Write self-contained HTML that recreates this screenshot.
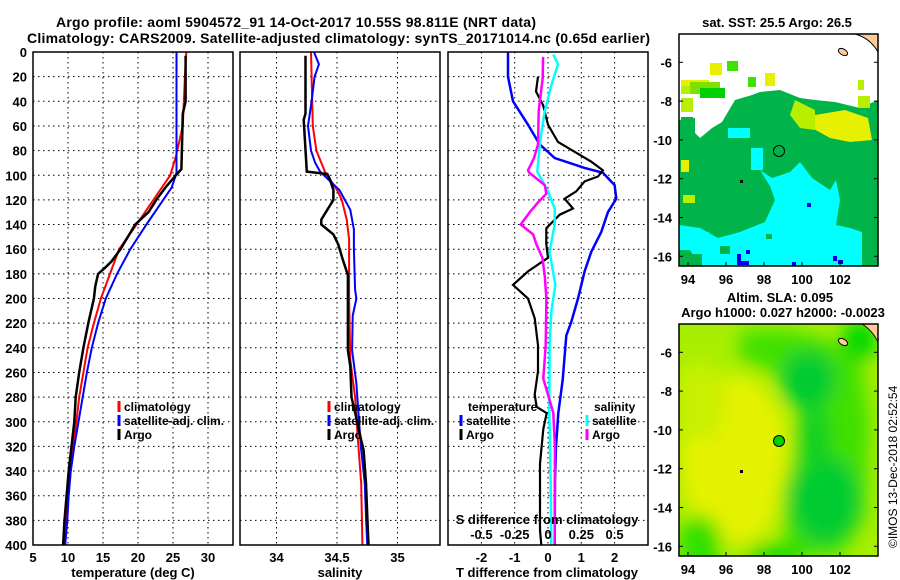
<!DOCTYPE html>
<html><head><meta charset="utf-8"><style>
body{margin:0;background:#fff;}
svg{display:block;font-family:"Liberation Sans",sans-serif;font-weight:bold;}
</style></head><body>
<svg id="chart" width="900" height="580" viewBox="0 0 900 580">
<defs>
<filter id="blur" x="-20%" y="-20%" width="140%" height="140%"><feGaussianBlur stdDeviation="9"/></filter>
<clipPath id="clipTop"><rect x="679" y="34" width="199" height="232"/></clipPath>
<clipPath id="clipBot"><rect x="679" y="324" width="199" height="232"/></clipPath>
</defs>
<text x="56" y="27" font-size="14" textLength="480">Argo profile: aoml 5904572_91 14-Oct-2017 10.55S 98.811E (NRT data)</text>
<text x="27" y="43" font-size="14" textLength="623">Climatology: CARS2009. Satellite-adjusted climatology: synTS_20171014.nc (0.65d earlier)</text>

<g id="panels"></g>

<!-- top map -->
<g>
<text x="777" y="27" font-size="13" text-anchor="middle">sat. SST: 25.5 Argo: 26.5</text>
<g clip-path="url(#clipTop)">
<rect x="679" y="34" width="199" height="232" fill="#fff"/>
<polygon fill="#00b44a" points="679,135 690,128 700,138 712,128 722,122 735,100 752,95 760,92 780,90 800,98 815,100 835,102 860,108 878,100 878,266 679,266"/>
<polygon fill="#00b44a" points="679,160 679,120 695,118 695,160"/>
<rect x="681" y="80" width="28" height="8" fill="#e6f000"/><rect x="681" y="86" width="12" height="8" fill="#b8ee00"/>
<rect x="681" y="98" width="12" height="14" fill="#b8ee00"/><rect x="710" y="63" width="12" height="12" fill="#e6f000"/><rect x="727" y="61" width="11" height="10" fill="#40e000"/>
<rect x="690" y="82" width="30" height="12" fill="#7fe000"/><rect x="700" y="88" width="25" height="10" fill="#00d000"/>
<rect x="765" y="73" width="10" height="13" fill="#e6f000"/><rect x="748" y="77" width="8" height="10" fill="#40e000"/>
<rect x="681" y="117" width="12" height="11" fill="#00b44a"/>
<polygon fill="#e6f000" points="815,115 845,110 868,118 872,140 850,142 830,138 812,128"/>
<polygon fill="#b8ee00" points="795,100 815,110 815,130 800,128 790,115"/>
<rect x="858" y="96" width="12" height="12" fill="#b8ee00"/><rect x="858" y="80" width="6" height="10" fill="#b8ee00"/>
<rect x="681" y="160" width="8" height="12" fill="#e6f000"/><rect x="683" y="195" width="12" height="8" fill="#b8ee00"/>
<polygon fill="#00ffff" points="760,170 772,178 790,172 800,162 812,178 830,190 836,180 840,200 836,225 850,228 862,232 862,266 700,266 690,250 679,248 679,225 700,228 718,238 740,232 765,222 775,200 770,186"/>
<rect x="728" y="128" width="22" height="10" fill="#00ffff"/><rect x="751" y="148" width="12" height="22" fill="#00ffff"/>
<rect x="679" y="232" width="30" height="18" fill="#00ffff"/><rect x="700" y="220" width="14" height="8" fill="#00b44a"/>
<rect x="680" y="254" width="22" height="12" fill="#00b44a"/><rect x="720" y="246" width="10" height="8" fill="#00b44a"/>
<rect x="766" y="234" width="6" height="5" fill="#00b44a"/><rect x="730" y="225" width="8" height="6" fill="#00b44a"/>
<rect x="737" y="254" width="4" height="9" fill="#0000ee"/><rect x="737" y="261" width="12" height="4" fill="#0000ee"/>
<rect x="746" y="250" width="4" height="4" fill="#0000ee"/><rect x="807" y="203" width="4" height="4" fill="#0000ee"/>
<rect x="792" y="262" width="4" height="4" fill="#0000ee"/><rect x="833" y="256" width="4" height="5" fill="#0000ee"/><rect x="838" y="260" width="5" height="4" fill="#0000ee"/>
<path d="M855,34 Q870,38 878,52 L878,34 Z" fill="#ffcc99" stroke="#000" stroke-width="1"/>
<ellipse cx="843" cy="52" rx="5" ry="3" transform="rotate(30 843 52)" fill="#ffcc99" stroke="#000"/>
<rect x="740" y="180" width="3" height="3" fill="#000"/>
<circle cx="779" cy="151" r="5.5" fill="#00b44a" stroke="#000"/>
</g>
<rect x="679" y="34" width="199" height="232" fill="none" stroke="#000" stroke-width="1.5"/>
</g>

<!-- bottom map -->
<g>
<text x="780" y="302" font-size="13" text-anchor="middle">Altim. SLA: 0.095</text>
<text x="783" y="317" font-size="13" text-anchor="middle">Argo h1000: 0.027 h2000: -0.0023</text>
<g clip-path="url(#clipBot)">
<rect x="679" y="324" width="199" height="232" fill="#a8ee00"/>
<g filter="url(#blur)">
<ellipse cx="735" cy="460" rx="55" ry="85" fill="#e4f200"/>
<ellipse cx="700" cy="400" rx="25" ry="40" fill="#c8f000"/>
<polygon fill="#40e000" points="740,330 790,330 830,340 860,360 870,420 865,520 840,556 790,556 780,500 790,460 800,400 770,370 740,360"/>
<ellipse cx="808" cy="380" rx="28" ry="30" fill="#00cc33"/>
<ellipse cx="825" cy="500" rx="35" ry="45" fill="#00cc33"/>
<ellipse cx="815" cy="440" rx="15" ry="35" fill="#10d020"/>
<ellipse cx="700" cy="545" rx="22" ry="30" fill="#30e000"/>
<ellipse cx="775" cy="555" rx="30" ry="10" fill="#00d800"/>
<ellipse cx="860" cy="340" rx="18" ry="20" fill="#00d800"/>
</g>
<path d="M862,324 Q872,330 878,342 L878,324 Z" fill="#ffcc99" stroke="#000" stroke-width="1"/>
<ellipse cx="843" cy="342" rx="5" ry="3" transform="rotate(30 843 342)" fill="#ffcc99" stroke="#000"/>
<rect x="740" y="470" width="3" height="3" fill="#000"/>
<circle cx="779" cy="441" r="5.5" fill="#00d000" stroke="#000"/>
</g>
<rect x="679" y="324" width="199" height="232" fill="none" stroke="#000" stroke-width="1.5"/>
<text transform="translate(897,548) rotate(-90)" font-size="12" font-weight="normal">©IMOS 13-Dec-2018 02:52:54</text>
</g>
<g id="mapaxes"></g>
</svg>
<script>
// ---------- data ----------
const depthTicks = [0,20,40,60,80,100,120,140,160,180,200,220,240,260,280,300,320,340,360,380,400];
const tempTicks = [5,10,15,20,25,30];
const salTicks = [34,34.5,35];
const salTickLabels = ["34","34.5","35"];
const diffTicks = [-2,-1,0,1,2];
const sdiffTicks = [-0.5,-0.25,0,0.25,0.5];
const sdiffTickLabels = ["-0.5","-0.25","0","0.25","0.5"];

const climTDepth = [0,20,60,85,100,120,140,160,180,200,220,240,260,280,300,320,340,360,380,400];
const climTValue = [26.9,26.7,26.4,25.4,24.6,22.2,19.8,17.3,16.0,14.7,13.7,12.8,12.2,11.6,11.2,10.7,10.2,9.9,9.7,9.5];
const satTDepth = [0,98,100,110,120,140,160,180,200,220,240,260,280,300,320,340,360,380,400];
const satTValue = [25.5,25.5,25.4,24.8,23.6,21.2,18.9,17.0,15.4,14.3,13.4,12.7,12.1,11.5,10.9,10.4,10.1,9.9,9.6];
const argoTDepth = [3,40,50,95,100,110,120,130,140,160,170,175,180,190,200,220,240,260,280,300,320,340,360,380,400];
const argoTValue = [26.8,26.8,26.4,26.2,25.4,23.9,22.6,21.5,19.6,17.5,16.2,15.3,14.3,13.9,13.7,12.9,12.2,11.6,11.1,10.9,10.5,10.1,9.8,9.5,9.3];

const climSDepth = [0,60,80,97,112,120,136,152,200,250,280,311,350,400];
const climSValue = [34.285,34.30,34.33,34.40,34.50,34.54,34.58,34.60,34.60,34.61,34.65,34.67,34.70,34.71];
const satSDepth = [0,10,20,40,60,80,90,97,112,128,144,160,193,200,214,242,269,297,323,350,377,400];
const satSValue = [34.31,34.35,34.315,34.29,34.26,34.285,34.32,34.36,34.52,34.61,34.64,34.64,34.65,34.66,34.63,34.625,34.66,34.68,34.70,34.73,34.74,34.75];
const argoSDepth = [3,50,55,97,99,103,112,120,136,140,148,156,169,181,201,242,255,280,297,311,323,350,377,400];
const argoSValue = [34.24,34.24,34.225,34.25,34.42,34.44,34.47,34.47,34.37,34.37,34.47,34.51,34.55,34.59,34.59,34.59,34.61,34.62,34.66,34.69,34.72,34.74,34.75,34.76];

const satDTDepth = [0,20,40,59,75,86,94,98,108,119,130,146,162,178,200,219,230,266,293,320,347,400];
const satDTValue = [-1.2,-1.2,-1.05,-0.6,-0.25,0.2,1.1,1.65,2.0,2.05,1.8,1.6,1.3,1.1,0.9,0.7,0.55,0.44,0.31,0.24,0.21,0.2];
const argoDTDepth = [20,32,43,59,73,81,89,96,101,105,113,119,127,132,143,156,167,178,189,200,216,238,259,278,288,293,306,334,361,388,400];
const argoDTValue = [-0.3,-0.36,-0.15,0,0.3,0.8,1.3,1.65,1.5,1.1,0.85,0.5,0.75,0.35,-0.05,-0.05,0,-0.6,-1.05,-0.6,-0.4,-0.3,-0.3,-0.4,-0.34,-0.04,-0.14,-0.24,-0.24,-0.24,-0.2];
const satDSDepth = [2,10,27,48,73,97,113,127,140,162,189,211,238,293,350,400];
const satDSValue = [0.04,0.075,0.025,-0.025,-0.06,-0.08,0,0.05,0.05,0.012,0.055,0.025,0.012,0.01,0.02,0.025];
const argoDSDepth = [4,21,48,75,86,96,98,108,115,122,130,140,148,156,167,181,200,238,265,288,293,320,400];
const argoDSValue = [-0.037,-0.04,-0.07,-0.075,-0.105,-0.15,-0.14,-0.025,-0.012,-0.075,-0.137,-0.205,-0.112,-0.087,-0.042,-0.025,-0.012,-0.017,-0.035,0.027,0.04,0.052,0.05];

const mapLatTicks = [-6,-8,-10,-12,-14,-16];
const mapLonTicks = [94,96,98,100,102];

// ---------- scales ----------
const yD = d => 52 + d*1.2325;
const xT = t => 33 + (t-5)*7;
const xS = s => 276.5 + (s-34)*121;
const xDiff = v => 548 + v*33.3;
const xSDiff = s => 548 + s*4*33.3;
const mapX = lon => 688 + (lon-94)*19;
const mapY = lat => 62.3 + (-6-lat)*19.4;

const NS = "http://www.w3.org/2000/svg";
const root = document.getElementById('panels');
function mk(tag, attrs, parent){
  const e = document.createElementNS(NS, tag);
  for (const k in attrs) e.setAttribute(k, attrs[k]);
  (parent||root).appendChild(e);
  return e;
}
const panels = [
  {x0:33, x1:233, name:'temperature-panel'},
  {x0:240, x1:440, name:'salinity-panel'},
  {x0:448, x1:648, name:'difference-panel'}
];
panels.forEach((p,i)=>{
  const g = mk('g',{});
  
  
  p.g = g;
  depthTicks.forEach(d=>{
    if(d===0||d===400) return;
    const l = mk('line',{x1:p.x0,x2:p.x1,y1:yD(d),y2:yD(d),stroke:'#000','stroke-width':1,'stroke-dasharray':'1.5,3.5'},g);
    
    
  });
});
function vgrid(p, xs){
  xs.forEach(x=>{
    const l = mk('line',{x1:x,x2:x,y1:52,y2:545,stroke:'#000','stroke-width':1,'stroke-dasharray':'1.5,3.5'},p.g);
    
    
  });
}
vgrid(panels[0], tempTicks.slice(1).map(xT));
vgrid(panels[1], salTicks.map(xS));
vgrid(panels[2], diffTicks.map(xDiff));

function txt(s, x, y, size, anchor, name, parent){
  const t = mk('text',{x:x,y:y,'font-size':size,'text-anchor':anchor||'start'},parent);
  t.textContent = s;
  
  
  return t;
}
// depth labels
depthTicks.forEach(d=>{
  txt(String(d), 27, yD(d)+5, 13, 'end', 'depth-tick-label');
});
// x tick labels
tempTicks.forEach(t=>txt(String(t), xT(t), 562, 13, 'middle', 'temperature-tick-label'));
salTicks.forEach((s,i)=>txt(salTickLabels[i], xS(s), 562, 13, 'middle', 'salinity-tick-label'));
diffTicks.forEach(v=>txt(String(v), xDiff(v), 562, 13, 'middle', 'tdiff-tick-label'));
sdiffTicks.forEach((s,i)=>txt(sdiffTickLabels[i], xSDiff(s), 539, 13, 'middle', 'sdiff-tick-label'));
txt('S difference from climatology', 547, 524, 13, 'middle', 'sdiff-axis-title');
txt('temperature (deg C)', 133, 577, 13, 'middle', 'temperature-axis-title');
txt('salinity', 340, 577, 13, 'middle', 'salinity-axis-title');
txt('T difference from climatology', 547, 577, 13, 'middle', 'tdiff-axis-title');

function series(p, depths, vals, xf, color, w, name){
  const pts = depths.map((d,i)=>xf(vals[i]).toFixed(1)+','+yD(d).toFixed(1)).join(' ');
  const l = mk('polyline',{points:pts,fill:'none',stroke:color,'stroke-width':w,'stroke-linejoin':'miter'},p.g);
  
  
}
series(panels[0], climTDepth, climTValue, xT, '#ff0000', 2, 'climatology-temperature-line');
series(panels[0], satTDepth, satTValue, xT, '#0000ff', 2, 'satellite-temperature-line');
series(panels[0], argoTDepth, argoTValue, xT, '#000000', 2.5, 'argo-temperature-line');
series(panels[1], climSDepth, climSValue, xS, '#ff0000', 2, 'climatology-salinity-line');
series(panels[1], satSDepth, satSValue, xS, '#0000ff', 2, 'satellite-salinity-line');
series(panels[1], argoSDepth, argoSValue, xS, '#000000', 2.5, 'argo-salinity-line');
series(panels[2], satDTDepth, satDTValue, xDiff, '#0000ff', 2.5, 'satellite-tdiff-line');
series(panels[2], argoDTDepth, argoDTValue, xDiff, '#000000', 2.2, 'argo-tdiff-line');
series(panels[2], satDSDepth, satDSValue, xSDiff, '#00ffff', 2.5, 'satellite-sdiff-line');
series(panels[2], argoDSDepth, argoDSValue, xSDiff, '#ff00ff', 2.5, 'argo-sdiff-line');

panels.forEach(p=>{
  const r = mk('rect',{x:p.x0,y:52,width:p.x1-p.x0,height:493,fill:'none',stroke:'#000','stroke-width':1.5},p.g);
  
  
});

function legend(x, y, color, label, name){
  const l = mk('line',{x1:x,x2:x,y1:y-6,y2:y+5,stroke:color,'stroke-width':3});
  
  
  txt(label, x+5, y+4, 12, 'start', name);
}
legend(119, 407, '#ff0000', 'climatology', 'legend-climatology');
legend(119, 421, '#0000ff', 'satellite-adj. clim.', 'legend-satellite');
legend(119, 435, '#000', 'Argo', 'legend-argo');
legend(329, 407, '#ff0000', 'climatology', 'legend-climatology-2');
legend(329, 421, '#0000ff', 'satellite-adj. clim.', 'legend-satellite-2');
legend(329, 435, '#000', 'Argo', 'legend-argo-2');
txt('temperature', 468, 411, 12, 'start', 'legend-temperature-header');
legend(461, 421, '#0000ff', 'satellite', 'legend-t-satellite');
legend(461, 435, '#000', 'Argo', 'legend-t-argo');
txt('salinity', 594, 411, 12, 'start', 'legend-salinity-header');
legend(587, 421, '#00ffff', 'satellite', 'legend-s-satellite');
legend(587, 435, '#ff00ff', 'Argo', 'legend-s-argo');

// map axes
const ma = document.getElementById('mapaxes');
[0,290].forEach(off=>{
  mapLatTicks.forEach(lat=>{
    const t = mk('text',{x:672,y:mapY(lat)+off+5,'font-size':13,'text-anchor':'end'},ma);
    t.textContent = String(lat);
    
    
    const k = mk('line',{x1:679,x2:683,y1:mapY(lat)+off,y2:mapY(lat)+off,stroke:'#000'},ma);
    
    
    const k2 = mk('line',{x1:874,x2:878,y1:mapY(lat)+off,y2:mapY(lat)+off,stroke:'#000'},ma);
    
    
  });
  mapLonTicks.forEach(lon=>{
    const t = mk('text',{x:mapX(lon),y:284+off,'font-size':13,'text-anchor':'middle'},ma);
    t.textContent = String(lon);
    
    
    const k = mk('line',{x1:mapX(lon),x2:mapX(lon),y1:262+off,y2:266+off,stroke:'#000'},ma);
    
    
  });
});
</script>
</body></html>
